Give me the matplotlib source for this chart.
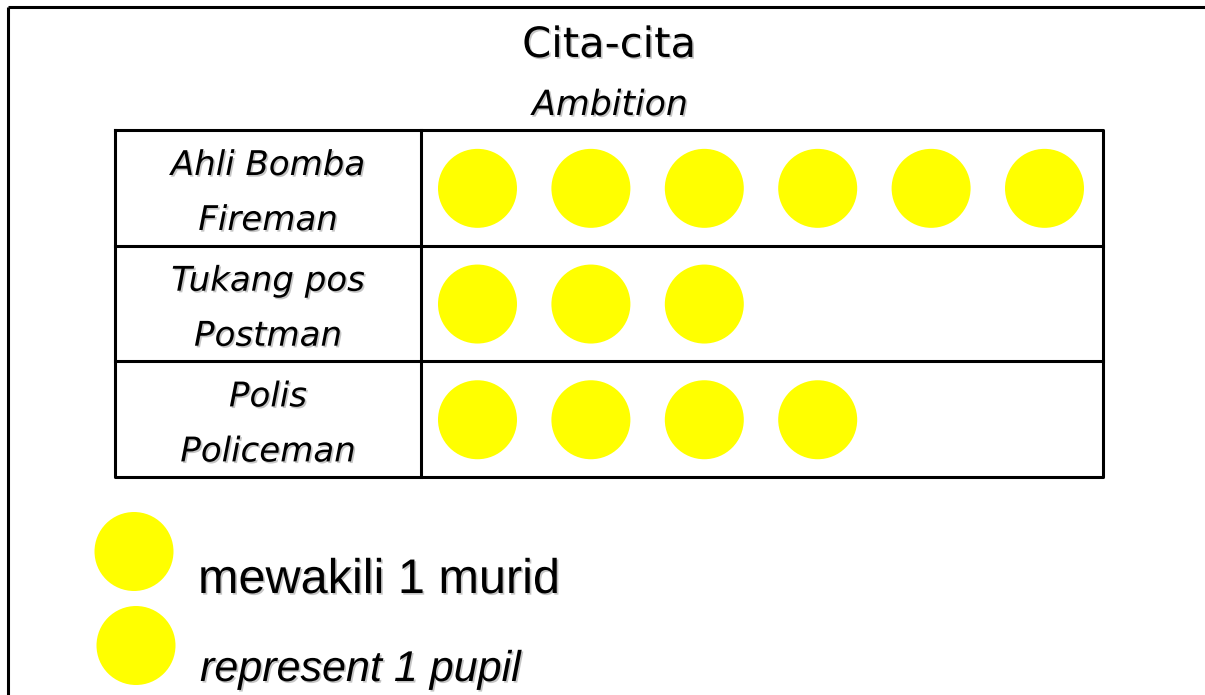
import matplotlib.pyplot as plt
from matplotlib.patches import Circle
import matplotlib.patheffects as pe

title = 'Cita-cita'
subtitle = 'Ambition'
labels_ms = ['Ahli Bomba', 'Tukang pos', 'Polis']
labels_en = ['Fireman', 'Postman', 'Policeman']
counts = [6, 3, 4]
key_ms = 'mewakili 1 murid'
key_en = 'represent 1 pupil'

W, H = 1205, 695
fig = plt.figure(figsize=(W / 100, H / 100), dpi=100)
ax = fig.add_axes([0, 0, 1, 1])
ax.set_xlim(0, W)
ax.set_ylim(H, 0)
ax.axis('off')

shadow = [pe.withSimplePatchShadow(offset=(1.2, -1.2), shadow_rgbFace='gray', alpha=0.45)]
lw = 2.2
yellow = '#ffff00'
font = 'DejaVu Sans'

# outer frame (open at right/bottom)
ax.plot([8, 8], [7, H], color='black', lw=lw, solid_capstyle='butt')
ax.plot([8, W], [7, 7], color='black', lw=lw, solid_capstyle='butt')

ax.text(609, 57, title, ha='center', va='baseline', fontsize=30, family=font,
        path_effects=shadow)
ax.text(610, 115, subtitle, ha='center', va='baseline', fontsize=25, family=font,
        style='italic', path_effects=shadow)

# table
left, mid, right = 115, 421, 1103
top, row_h = 130, 115.7
nrows = len(counts)
bottom = top + nrows * row_h
ax.plot([left, right, right, left, left], [top, top, bottom, bottom, top],
        color='black', lw=lw)
ax.plot([mid, mid], [top, bottom], color='black', lw=lw)
for i in range(1, nrows):
    ax.plot([left, right], [top + i * row_h] * 2, color='black', lw=lw)

x0, step, r = 477.5, 113.4, 39.5
for i, (ms, en, n) in enumerate(zip(labels_ms, labels_en, counts)):
    ytop = top + i * row_h
    yc = ytop + row_h / 2
    lx = (left + mid) / 2
    ax.text(lx, ytop + 45, ms, ha='center', va='baseline', fontsize=24.5, family=font,
            style='italic', path_effects=shadow)
    ax.text(lx, ytop + 100, en, ha='center', va='baseline', fontsize=24.5, family=font,
            style='italic', path_effects=shadow)
    for k in range(n):
        ax.add_patch(Circle((x0 + k * step, yc + 0.5), r, facecolor=yellow,
                            edgecolor='none'))

# key
ax.add_patch(Circle((134, 551.5), 39.5, facecolor=yellow, edgecolor='none'))
ax.add_patch(Circle((136, 645.5), 39.5, facecolor=yellow, edgecolor='none'))
ax.text(198, 593, key_ms, ha='left', va='baseline', fontsize=35,
        family='Liberation Sans', path_effects=shadow)
ax.text(200, 681, key_en, ha='left', va='baseline', fontsize=31,
        family='Liberation Sans', style='italic', path_effects=shadow)

fig.savefig('out.png', dpi=100)
